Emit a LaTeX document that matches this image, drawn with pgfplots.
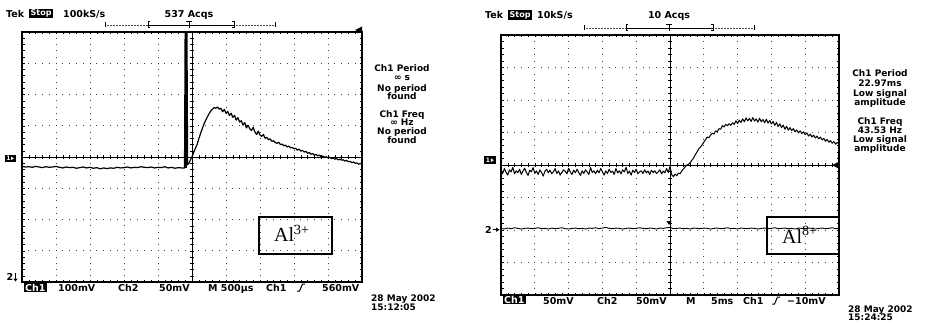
\documentclass[border=0pt]{standalone}
\usepackage{pgfplots}
\pgfplotsset{compat=1.18}
\usepackage{fontspec}
\setmainfont{DejaVu Sans}
\newfontfamily\serif{Liberation Serif}
\newcommand\tek{\fontsize{9.5}{10}\selectfont\bfseries}
\newcommand\tekm{\fontsize{9}{9}\selectfont\bfseries}

\newcommand\graticule[4]{%
\begin{scope}
\pgfmathsetmacro\GRgx{#1}\pgfmathsetmacro\GRgy{#2}%
\pgfmathsetmacro\GRgw{#3}\pgfmathsetmacro\GRgh{#4}%
\pgfmathsetmacro\GRdx{\GRgw/10}\pgfmathsetmacro\GRdy{\GRgh/8}%
\pgfmathsetmacro\GRmx{\GRdx/5}\pgfmathsetmacro\GRmy{\GRdy/5}%
\pgfmathsetmacro\GRoffx{\GRmx-0.9}\pgfmathsetmacro\GRoffy{\GRmy-0.9}%
\pgfmathsetmacro\GRcx{\GRgx+5*\GRdx}\pgfmathsetmacro\GRcy{\GRgy+4*\GRdy}%
\foreach \i in {1,2,3,4,6,7,8,9}{%
  \draw[black!75, line width=0.9pt, dash pattern=on 0.9pt off \GRoffy pt, dash phase=0.45pt]
    (\GRgx+\i*\GRdx,\GRgy) -- (\GRgx+\i*\GRdx,\GRgy+\GRgh);}
\foreach \j in {1,2,3,5,6,7}{%
  \draw[black!75, line width=0.9pt, dash pattern=on 0.9pt off \GRoffx pt, dash phase=0.45pt]
    (\GRgx,\GRgy+\j*\GRdy) -- (\GRgx+\GRgw,\GRgy+\j*\GRdy);}
\draw[line width=0.5pt] (\GRgx,\GRcy) -- (\GRgx+\GRgw,\GRcy);
\draw[line width=0.6pt] (\GRcx,\GRgy) -- (\GRcx,\GRgy+\GRgh);
\foreach \k in {1,...,49}{%
  \draw[line width=0.5pt] (\GRgx+\k*\GRmx,\GRcy-2) -- (\GRgx+\k*\GRmx,\GRcy+2);
  \draw[line width=0.5pt] (\GRgx+\k*\GRmx,\GRgy) -- (\GRgx+\k*\GRmx,\GRgy+2.5);
  \draw[line width=0.5pt] (\GRgx+\k*\GRmx,\GRgy+\GRgh) -- (\GRgx+\k*\GRmx,\GRgy+\GRgh-2.5);}
\foreach \k in {1,...,39}{%
  \draw[line width=0.5pt] (\GRcx-2,\GRgy+\k*\GRmy) -- (\GRcx+2,\GRgy+\k*\GRmy);
  \draw[line width=0.5pt] (\GRgx,\GRgy+\k*\GRmy) -- (\GRgx+2.5,\GRgy+\k*\GRmy);
  \draw[line width=0.5pt] (\GRgx+\GRgw,\GRgy+\k*\GRmy) -- (\GRgx+\GRgw-2.5,\GRgy+\k*\GRmy);}
\end{scope}}

\begin{document}
\begin{tikzpicture}[x=1pt,y=1pt]
\useasboundingbox (0,0) rectangle (926,322);
\fill[white] (0,0) rectangle (926,322);

% ================= LEFT SCREEN =================
\graticule{22}{40}{340}{250}
\begin{axis}[at={(22pt,40pt)}, anchor=south west, width=340pt, height=250pt,
  scale only axis, xmin=0, xmax=10, ymin=-4, ymax=4, hide axis, clip=true]
\addplot[black, line width=1.2pt, line join=round, mark=none] coordinates {
(0.0,-0.30)(0.1,-0.32)(0.2,-0.31)(0.3,-0.33)(0.4,-0.30)(0.5,-0.32)(0.6,-0.34)(0.7,-0.31)(0.8,-0.33)(0.9,-0.32)
(1.0,-0.30)(1.1,-0.33)(1.2,-0.35)(1.3,-0.32)(1.4,-0.34)(1.5,-0.33)(1.6,-0.36)(1.7,-0.34)(1.8,-0.32)(1.9,-0.35)
(2.0,-0.33)(2.1,-0.36)(2.2,-0.34)(2.3,-0.38)(2.4,-0.35)(2.5,-0.37)(2.6,-0.35)(2.7,-0.36)(2.8,-0.33)(2.9,-0.35)
(3.0,-0.34)(3.1,-0.32)(3.2,-0.35)(3.3,-0.33)(3.4,-0.34)(3.5,-0.31)(3.6,-0.33)(3.7,-0.34)(3.8,-0.32)(3.9,-0.35)
(4.0,-0.33)(4.1,-0.34)(4.2,-0.31)(4.3,-0.35)(4.4,-0.33)(4.5,-0.36)(4.6,-0.34)(4.7,-0.35)(4.78,-0.35)
(4.80,4.5)(4.85,4.5)(4.87,-0.25)(4.92,-0.18)(4.95,-0.10)(5.00,0.00)(5.05,0.15)(5.10,0.28)(5.15,0.40)(5.20,0.58)
(5.25,0.75)(5.30,0.90)(5.35,1.05)(5.40,1.17)(5.45,1.28)(5.50,1.38)(5.55,1.47)(5.60,1.53)(5.65,1.58)(5.70,1.56)
(5.75,1.60)(5.80,1.53)(5.85,1.56)(5.90,1.45)(5.95,1.52)(6.00,1.40)(6.05,1.46)(6.10,1.33)(6.15,1.40)(6.20,1.27)
(6.25,1.33)(6.30,1.18)(6.35,1.26)(6.40,1.12)(6.45,1.16)(6.50,1.02)(6.55,1.10)(6.60,0.93)(6.65,1.02)(6.70,0.90)
(6.75,0.85)(6.80,0.95)(6.85,0.80)(6.90,0.72)(6.95,0.83)(7.00,0.70)(7.05,0.66)(7.10,0.72)(7.15,0.60)(7.20,0.63)
(7.25,0.55)(7.30,0.58)(7.35,0.50)(7.40,0.52)(7.45,0.46)(7.50,0.44)(7.55,0.47)(7.60,0.40)(7.65,0.41)(7.70,0.36)
(7.75,0.38)(7.80,0.32)(7.85,0.35)(7.90,0.29)(7.95,0.31)(8.00,0.26)(8.05,0.28)(8.10,0.22)(8.15,0.25)(8.20,0.19)
(8.25,0.21)(8.30,0.16)(8.35,0.18)(8.40,0.12)(8.45,0.14)(8.50,0.09)(8.55,0.11)(8.60,0.06)(8.65,0.08)(8.70,0.04)
(8.75,0.06)(8.80,0.01)(8.85,0.03)(8.90,-0.01)(8.95,0.01)(9.00,-0.03)(9.05,-0.01)(9.10,-0.05)(9.15,-0.03)(9.20,-0.07)
(9.25,-0.05)(9.30,-0.09)(9.35,-0.07)(9.40,-0.10)(9.45,-0.09)(9.50,-0.13)(9.55,-0.11)(9.60,-0.15)(9.65,-0.14)(9.70,-0.18)
(9.75,-0.16)(9.80,-0.20)(9.85,-0.19)(9.90,-0.23)(9.95,-0.21)(10.0,-0.22)};
\addplot[black, line width=2.8pt, mark=none] coordinates {(4.825,-0.34)(4.825,4.5)};
\end{axis}
\draw[line width=1.3pt] (22,40) rectangle (362,290);

% left texts
\node[anchor=base west, font=\tek, inner sep=0] at (6,304.7) {Tek};
\node[anchor=west, fill=black, text=white, font=\fontsize{8}{8}\selectfont\bfseries, inner xsep=1.5pt, inner ysep=1pt] at (29,308.5) {Stop};
\node[anchor=base west, font=\tek, inner sep=0] at (63,304.7) {100kS/s};
\node[anchor=base, font=\tek, inner sep=0] at (189,304.7) {537 Acqs};
% record bar
\draw[black!70, line width=0.5pt, densely dotted] (105,297) -- (275,297);
\draw[line width=0.5pt] (148,297) -- (234,297);
\draw[line width=0.6pt] (105,294.5) -- (105,299.5) (275,294.5) -- (275,299.5);
\draw[line width=1pt] (150,294) -- (148,294) -- (148,300) -- (150,300);
\draw[line width=1pt] (232,294) -- (234,294) -- (234,300) -- (232,300);
\draw[line width=1pt] (186,300.5) -- (192,300.5) (189,300.5) -- (189,293.5);
% trigger level arrow
\fill (355,292) -- (362,295.5) -- (362,288.5) -- cycle;
% ch1 marker
\fill (5,160.3) rectangle (15.5,167);
\node[text=white, font=\fontsize{6}{6}\selectfont\bfseries, inner sep=0] at (8.5,163.6) {1};
\fill[white] (11,161.8) -- (13.8,163.6) -- (11,165.4) -- cycle;
% ch2 marker
\node[anchor=base west, font=\tek, inner sep=0] at (6.5,41.5) {2};
\draw[line width=0.8pt] (15.5,49) -- (15.5,42.5);
\fill (13.3,43.5) -- (17.7,43.5) -- (15.5,40.5) -- cycle;
% bottom row
\node[anchor=west, fill=black, text=white, font=\tek, inner xsep=1pt, inner ysep=0.8pt] at (24,34.5) {Ch1};
\node[anchor=base west, font=\tek, inner sep=0] at (58,31) {100mV};
\node[anchor=base west, font=\tek, inner sep=0] at (118,31) {Ch2};
\node[anchor=base west, font=\tek, inner sep=0] at (159,31) {50mV};
\node[anchor=base west, font=\tek, inner sep=0] at (208,31) {M 500µs};
\node[anchor=base west, font=\tek, inner sep=0] at (266,31) {Ch1};
\draw[line width=1pt] (297,31) -- (299.5,31) -- (302.5,38) -- (305,38);
\node[anchor=base west, font=\tek, inner sep=0] at (322,31) {560mV};
\node[anchor=base west, font=\tekm, inner sep=0] at (371,21) {28 May 2002};
\node[anchor=base west, font=\tekm, inner sep=0] at (371,11.5) {15:12:05};
% measurements
\foreach \t/\yy in {Ch1 Period/250.2, ∞ s/241.2, No period/231.0, found/222.5,
  Ch1 Freq/204.5, ∞ Hz/196.8, No period/188.0, found/178.5}{
  \node[anchor=base, font=\tekm, inner sep=0] at (402,\yy) {\t};}
% Al box
\draw[line width=1.3pt] (259,68) rectangle (332,105);
\node[anchor=base west, font=\serif\fontsize{20}{20}\selectfont, inner sep=0] at (274,80.3) {Al\textsuperscript{3+}};

% ================= RIGHT SCREEN =================
\graticule{501}{27}{338}{260}
\begin{axis}[at={(501pt,27pt)}, anchor=south west, width=338pt, height=260pt,
  scale only axis, xmin=0, xmax=10, ymin=-4, ymax=4, hide axis, clip=true]
\addplot[black, line width=1pt, line join=round, mark=none] coordinates {
(0.00,-0.16)(0.05,-0.26)(0.10,-0.11)(0.15,-0.23)(0.20,-0.31)(0.25,-0.15)(0.30,-0.21)(0.35,-0.07)(0.40,-0.27)(0.45,-0.18)
(0.50,-0.24)(0.55,-0.13)(0.60,-0.29)(0.65,-0.19)(0.70,-0.10)(0.75,-0.23)(0.80,-0.32)(0.85,-0.16)(0.90,-0.21)(0.95,-0.08)
(1.00,-0.26)(1.05,-0.18)(1.10,-0.29)(1.15,-0.15)(1.20,-0.23)(1.25,-0.34)(1.30,-0.19)(1.35,-0.13)(1.40,-0.24)(1.45,-0.16)
(1.50,-0.27)(1.55,-0.21)(1.60,-0.11)(1.65,-0.26)(1.70,-0.18)(1.75,-0.31)(1.80,-0.23)(1.85,-0.15)(1.90,-0.19)(1.95,-0.27)
(2.00,-0.10)(2.05,-0.21)(2.10,-0.29)(2.15,-0.16)(2.20,-0.24)(2.25,-0.13)(2.30,-0.23)(2.35,-0.32)(2.40,-0.18)(2.45,-0.26)
(2.50,-0.15)(2.55,-0.21)(2.60,-0.29)(2.65,-0.08)(2.70,-0.23)(2.75,-0.18)(2.80,-0.27)(2.85,-0.16)(2.90,-0.24)(2.95,-0.11)
(3.00,-0.21)(3.05,-0.31)(3.10,-0.18)(3.15,-0.26)(3.20,-0.13)(3.25,-0.23)(3.30,-0.19)(3.35,-0.29)(3.40,-0.11)(3.45,-0.24)
(3.50,-0.18)(3.55,-0.27)(3.60,-0.15)(3.65,-0.21)(3.70,-0.07)(3.75,-0.26)(3.80,-0.19)(3.85,-0.31)(3.90,-0.16)(3.95,-0.23)
(4.00,-0.13)(4.05,-0.27)(4.10,-0.21)(4.15,-0.18)(4.20,-0.26)(4.25,-0.15)(4.30,-0.24)(4.35,-0.19)(4.40,-0.29)(4.45,-0.16)
(4.50,-0.23)(4.55,-0.18)(4.60,-0.26)(4.65,-0.21)(4.70,-0.15)(4.75,-0.27)(4.80,-0.19)(4.85,-0.24)(4.90,-0.11)(4.95,-0.23)
(5.00,-0.05)(5.05,-0.30)(5.10,-0.36)(5.15,-0.28)(5.20,-0.33)(5.25,-0.25)(5.30,-0.27)(5.35,-0.18)(5.40,-0.12)(5.45,-0.05)
(5.50,0.00)(5.55,0.02)(5.60,0.08)(5.65,0.15)(5.70,0.22)(5.75,0.32)(5.80,0.40)(5.85,0.50)(5.90,0.55)(5.95,0.62)
(6.00,0.70)(6.05,0.78)(6.10,0.86)(6.15,0.84)(6.20,0.92)(6.25,0.98)(6.30,0.95)(6.35,1.05)(6.40,1.02)(6.45,1.12)
(6.50,1.10)(6.55,1.21)(6.60,1.17)(6.65,1.25)(6.70,1.21)(6.75,1.27)(6.80,1.22)(6.85,1.30)(6.90,1.25)(6.95,1.36)
(7.00,1.28)(7.05,1.38)(7.10,1.31)(7.15,1.42)(7.20,1.33)(7.25,1.45)(7.30,1.36)(7.35,1.43)(7.40,1.34)(7.45,1.46)
(7.50,1.35)(7.55,1.42)(7.60,1.32)(7.65,1.44)(7.70,1.33)(7.75,1.40)(7.80,1.30)(7.85,1.41)(7.90,1.29)(7.95,1.37)
(8.00,1.26)(8.05,1.34)(8.10,1.22)(8.15,1.31)(8.20,1.18)(8.25,1.27)(8.30,1.15)(8.35,1.23)(8.40,1.10)(8.45,1.19)
(8.50,1.07)(8.55,1.15)(8.60,1.06)(8.65,1.12)(8.70,1.02)(8.75,1.08)(8.80,0.99)(8.85,1.05)(8.90,0.97)(8.95,1.02)
(9.00,0.93)(9.05,0.99)(9.10,0.89)(9.15,0.95)(9.20,0.86)(9.25,0.92)(9.30,0.83)(9.35,0.89)(9.40,0.80)(9.45,0.86)
(9.50,0.77)(9.55,0.82)(9.60,0.73)(9.65,0.79)(9.70,0.70)(9.75,0.75)(9.80,0.67)(9.85,0.72)(9.90,0.64)(9.95,0.69)(10.0,0.66)};
\addplot[black, line width=0.9pt, line join=round, mark=none] coordinates {
(0.0,-1.95)(0.1,-1.97)(0.2,-1.94)(0.3,-1.96)(0.4,-1.93)(0.5,-1.95)(0.6,-1.97)(0.7,-1.95)(0.8,-1.94)(0.9,-1.96)
(1.0,-1.95)(1.1,-1.93)(1.2,-1.96)(1.3,-1.95)(1.4,-1.97)(1.5,-1.94)(1.6,-1.96)(1.7,-1.95)(1.8,-1.93)(1.9,-1.96)
(2.0,-1.97)(2.1,-1.95)(2.2,-1.94)(2.3,-1.96)(2.4,-1.95)(2.5,-1.97)(2.6,-1.94)(2.7,-1.95)(2.8,-1.93)(2.9,-1.96)
(3.0,-1.94)(3.1,-1.92)(3.2,-1.95)(3.3,-1.96)(3.4,-1.94)(3.5,-1.95)(3.6,-1.97)(3.7,-1.95)(3.8,-1.94)(3.9,-1.96)
(4.0,-1.95)(4.1,-1.93)(4.2,-1.95)(4.3,-1.96)(4.4,-1.94)(4.5,-1.95)(4.6,-1.97)(4.7,-1.94)(4.8,-1.95)(4.9,-1.93)
(5.0,-1.92)(5.1,-1.96)(5.2,-1.95)(5.3,-1.94)(5.4,-1.96)(5.5,-1.95)(5.6,-1.97)(5.7,-1.94)(5.8,-1.95)(5.9,-1.96)
(6.0,-1.94)(6.1,-1.95)(6.2,-1.97)(6.3,-1.95)(6.4,-1.94)(6.5,-1.96)(6.6,-1.95)(6.7,-1.93)(6.8,-1.96)(6.9,-1.95)
(7.0,-1.97)(7.1,-1.94)(7.2,-1.95)(7.3,-1.96)(7.4,-1.94)(7.5,-1.95)(7.6,-1.97)(7.7,-1.95)(7.8,-1.94)(7.9,-1.96)
(8.0,-1.95)(8.1,-1.93)(8.2,-1.96)(8.3,-1.95)(8.4,-1.94)(8.5,-1.96)(8.6,-1.95)(8.7,-1.97)(8.8,-1.94)(8.9,-1.95)
(9.0,-1.96)(9.1,-1.94)(9.2,-1.95)(9.3,-1.97)(9.4,-1.95)(9.5,-1.94)(9.6,-1.96)(9.7,-1.95)(9.8,-1.93)(9.9,-1.96)(10.0,-1.95)};
\end{axis}
\draw[line width=1.3pt] (501,27) rectangle (839,287);

% right texts
\node[anchor=base west, font=\tek, inner sep=0] at (485,303) {Tek};
\node[anchor=west, fill=black, text=white, font=\fontsize{8}{8}\selectfont\bfseries, inner xsep=1.5pt, inner ysep=1pt] at (508,306.8) {Stop};
\node[anchor=base west, font=\tek, inner sep=0] at (537,303) {10kS/s};
\node[anchor=base, font=\tek, inner sep=0] at (669,303) {10 Acqs};
\draw[black!70, line width=0.5pt, densely dotted] (584,294) -- (754,294);
\draw[line width=0.5pt] (626,294) -- (713,294);
\draw[line width=0.6pt] (584,291.5) -- (584,296.5) (754,291.5) -- (754,296.5);
\draw[line width=1pt] (628,291) -- (626,291) -- (626,297) -- (628,297);
\draw[line width=1pt] (711,291) -- (713,291) -- (713,297) -- (711,297);
\draw[line width=1pt] (666,297.5) -- (672,297.5) (669,297.5) -- (669,290.5);
% trigger level arrow
\fill (832,156.8) -- (838,159.8) -- (838,153.8) -- cycle;
% ch2 trigger marker
\fill (666.5,101) -- (671.5,101) -- (669,97) -- cycle;
% ch1 marker
\fill (484,157.7) rectangle (496,166);
\node[text=white, font=\fontsize{6}{6}\selectfont\bfseries, inner sep=0] at (488,161.8) {1};
\fill[white] (490.8,159.9) -- (493.8,161.8) -- (490.8,163.7) -- cycle;
% ch2 marker
\node[anchor=base west, font=\tek, inner sep=0] at (485,88.5) {2};
\draw[line width=0.8pt] (492.5,92.3) -- (497,92.3);
\fill (496,94.5) -- (496,90.1) -- (499.5,92.3) -- cycle;
% bottom row
\node[anchor=west, fill=black, text=white, font=\tek, inner xsep=1pt, inner ysep=0.8pt] at (503,22) {Ch1};
\node[anchor=base west, font=\tek, inner sep=0] at (543,18) {50mV};
\node[anchor=base west, font=\tek, inner sep=0] at (597,18) {Ch2};
\node[anchor=base west, font=\tek, inner sep=0] at (636,18) {50mV};
\node[anchor=base west, font=\tek, inner sep=0] at (686,18) {M};
\node[anchor=base west, font=\tek, inner sep=0] at (711,18) {5ms};
\node[anchor=base west, font=\tek, inner sep=0] at (743,18) {Ch1};
\draw[line width=1pt] (772,18) -- (774.5,18) -- (777.5,25) -- (780,25);
\node[anchor=base west, font=\tek, inner sep=0] at (787,18) {−10mV};
\node[anchor=base west, font=\tekm, inner sep=0] at (848,9.5) {28 May 2002};
\node[anchor=base west, font=\tekm, inner sep=0] at (848,1.2) {15:24:25};
% measurements
\foreach \t/\yy in {Ch1 Period/245.2, 22.97ms/235.2, Low signal/225.8, amplitude/216.8,
  Ch1 Freq/197.8, 43.53 Hz/188.5, Low signal/179.2, amplitude/170.2}{
  \node[anchor=base, font=\tekm, inner sep=0] at (880,\yy) {\t};}
% Al box
\draw[line width=1.3pt] (767,68) rectangle (839,105);
\node[anchor=base west, font=\serif\fontsize{20}{20}\selectfont, inner sep=0] at (782,79) {Al\textsuperscript{8+}};
\end{tikzpicture}
\end{document}
